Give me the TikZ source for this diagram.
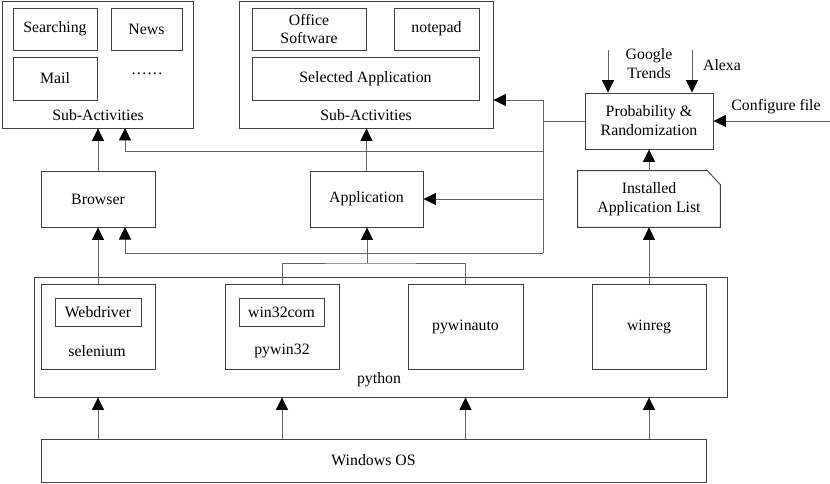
\documentclass[tikz,border=0pt]{standalone}
\usepackage{fontspec}
\setmainfont{Liberation Serif}
\usetikzlibrary{arrows.meta}

\begin{document}
\begin{tikzpicture}[x=0.02cm,y=-0.02cm,font=\fontsize{9}{10.8}\selectfont,
		box/.style 2 args={draw=black!75,line width=0.5pt,inner sep=0pt,align=center,minimum width=#1*0.02cm,minimum height=#2*0.02cm},
		txt/.style={inner sep=0pt,align=center},
		line/.style={draw=black!60,line width=0.55pt},
		arr/.style={line,-{Triangle[length=2.5mm,width=2.4mm,color=black]}}]
	\useasboundingbox (0,0) rectangle (830,483);
	
	% browser sub-activities
	\node[box={191}{127}] (subA) at (97.5,64.5) {};
	\node[box={84}{42}] (search) at (55,29) {Searching};
	\node[box={71}{42}] (news) at (146.5,29) {News};
	\node[box={84}{43}] (mail) at (55,78.5) {Mail};
	\node[txt] (dots) at (147,74) {\ldots\ldots};
	\node[txt] (subAtxt) at (98,115) {Sub-Activities};
	
	% application sub-activities
	\node[box={254}{127}] (subB) at (366,64.5) {};
	\node[box={114}{42}] (office) at (309,29) {Office\\Software};
	\node[box={85}{42}] (notepad) at (436.5,29) {notepad};
	\node[box={227}{43}] (selapp) at (365.5,78.5) {Selected Application};
	\node[txt] (subBtxt) at (366,115) {Sub-Activities};
	
	\node[box={114}{56}] (browser) at (98,199) {Browser};
	\node[box={113}{56}] (app) at (366.5,199) {Application};
	\node[box={128}{56}] (prob) at (649,121) {Probability \&\\Randomization};
	
	% installed application list, cut corner
	\node[txt,minimum width=142*0.02cm,minimum height=56*0.02cm] (inst) at (649,199) {Installed\\Application List};
	\draw[line,draw=black!75,line width=0.5pt] (inst.south west) -- (inst.north west) -- ([xshift=-13*0.02cm]inst.north east) -- ([yshift=-14*0.02cm]inst.north east) -- (inst.south east) -- cycle;
	
	\node[txt] (gtxt) at (649,64) {Google\\Trends};
	\node[txt] (atxt) at (722,65) {Alexa};
	\node[txt] (ctxt) at (776,107) {Configure file};
	
	% python modules
	\node[box={693}{120}] (python) at (380.5,337) {};
	\node[txt] (pytxt) at (379,380) {python};
	\node[box={114}{85}] (selenium) at (98,326.5) {};
	\node[box={86}{28}] (webdriver) at (98,312) {Webdriver};
	\node[txt] (seltxt) at (97,351) {selenium};
	\node[box={114}{85}] (pywin32) at (282,326.5) {};
	\node[box={85}{28}] (win32com) at (281.5,312) {win32com};
	\node[txt] (pwtxt) at (282,351) {pywin32};
	\node[box={115}{85}] (pywinauto) at (465.5,326.5) {pywinauto};
	\node[box={114}{85}] (winreg) at (649,326.5) {winreg};
	
	\node[box={665}{43}] (winos) at (373.5,460.5) {Windows OS};
	
	\coordinate (bTop) at (543,100);
	\coordinate (bProb) at (543,121);
	\coordinate (bSub) at (543,151);
	\coordinate (bApp) at (543,199);
	\coordinate (bBot) at (543,253);
	\coordinate (aSub) at (125,128);
	\coordinate (aBr) at (125,227);
	\coordinate (jApp) at (367,263);
	\coordinate (gIn) at (608,50);
	\coordinate (aIn) at (692,50);
	\coordinate (cIn) at (830,121);
	
	\draw[arr] (selenium.north) -- (browser.south);
	\draw[arr] (browser.north) -- (subA.south -| browser.north);
	\draw[arr] (app.north) -- (subB.south -| app.north);
	\draw[line] (pywin32.north) |- (jApp) -| (pywinauto.north);
	\draw[arr] (jApp) -- (app.south -| jApp);
	
	\draw[line] (prob.west) -- (bProb);
	\draw[line] (bTop) -- (bBot);
	\draw[arr] (bTop) -- (bTop -| subB.east);
	\draw[arr] (bSub) -| (aSub);
	\draw[arr] (bApp) -- (app.east);
	\draw[arr] (bBot) -| (aBr);
	
	\draw[arr] (gIn) -- (gIn |- prob.north);
	\draw[arr] (aIn) -- (aIn |- prob.north);
	\draw[arr] (cIn) -- (prob.east);
	\draw[arr] (inst.north) -- (prob.south);
	\draw[arr] (winreg.north) -- (inst.south);
	
	\foreach \m in {selenium,pywin32,pywinauto,winreg}
		\draw[arr] (winos.north -| \m.north) -- (python.south -| \m.north);
\end{tikzpicture}
\end{document}
